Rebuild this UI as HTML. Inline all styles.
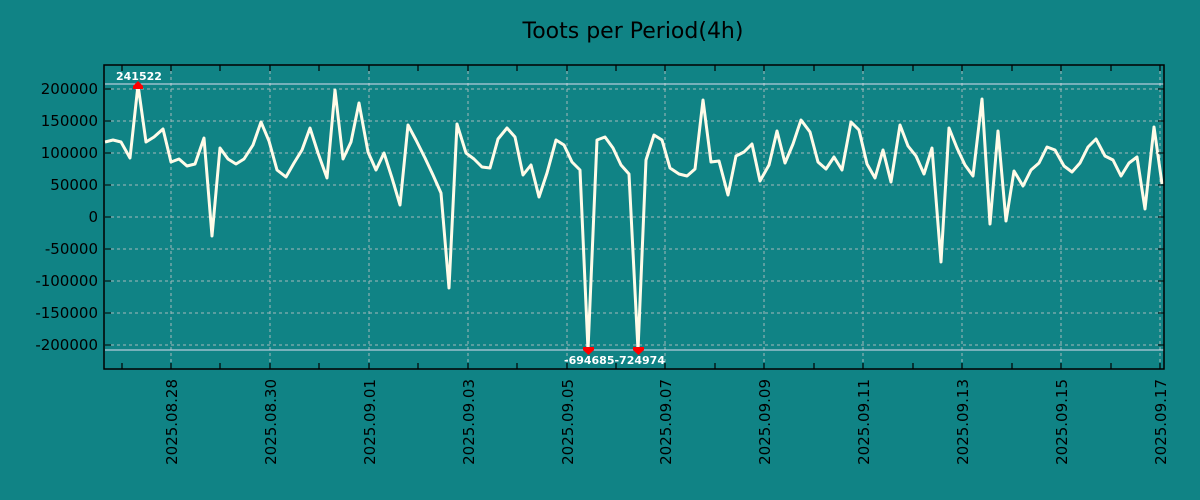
<!DOCTYPE html>
<html><head><meta charset="utf-8"><style>
body{margin:0;background:#108385;}
svg{display:block}
text{font-family:"DejaVu Sans","Liberation Sans",sans-serif}
</style></head><body>
<svg width="1200" height="500" viewBox="0 0 1200 500">
<rect width="1200" height="500" fill="#108385"/>
<text x="633" y="38" font-size="22" text-anchor="middle" fill="#000">Toots per Period(4h)</text>
<g stroke="#c8c8c8" stroke-width="1" stroke-dasharray="3,3" opacity="0.8">
<line x1="105" x2="1164" y1="89" y2="89"/><line x1="105" x2="1164" y1="121" y2="121"/>
<line x1="105" x2="1164" y1="153" y2="153"/><line x1="105" x2="1164" y1="185" y2="185"/>
<line x1="105" x2="1164" y1="217" y2="217"/><line x1="105" x2="1164" y1="249" y2="249"/>
<line x1="105" x2="1164" y1="281" y2="281"/><line x1="105" x2="1164" y1="313" y2="313"/>
<line x1="105" x2="1164" y1="345" y2="345"/>
<line y1="65" y2="369" x1="171" x2="171"/><line y1="65" y2="369" x1="270" x2="270"/>
<line y1="65" y2="369" x1="369" x2="369"/><line y1="65" y2="369" x1="468" x2="468"/>
<line y1="65" y2="369" x1="567" x2="567"/><line y1="65" y2="369" x1="665" x2="665"/>
<line y1="65" y2="369" x1="764" x2="764"/><line y1="65" y2="369" x1="863" x2="863"/>
<line y1="65" y2="369" x1="962" x2="962"/><line y1="65" y2="369" x1="1061" x2="1061"/>
<line y1="65" y2="369" x1="1160" x2="1160"/>
</g>
<line x1="105" x2="1164" y1="84" y2="84" stroke="#dde" stroke-width="1"/>
<line x1="105" x2="1164" y1="350" y2="350" stroke="#dde" stroke-width="1"/>
<polyline fill="none" stroke="#fffbe8" stroke-width="3" stroke-linejoin="round" points="105,142 113,140 121,142 130,158 138,85 146,142 154,137 163,129 171,162 179,159 187,166 195,164 204,138 212,236 220,148 228,159 236,164 244,159 253,145 261,122 269,141 277,170 286,177 294,163 302,150 310,128 318,153 327,178 335,90 343,159 351,142 359,103 368,152 376,170 384,153 392,178 400,205 408,125 416,140 425,158 433,175 441,193 449,288 457,124 466,153 474,159 482,167 490,168 498,139 507,128 515,137 523,175 531,165 539,197 547,173 556,140 564,145 572,162 580,170 588,350 597,140 605,137 613,148 621,165 629,174 638,350 646,160 654,135 662,140 670,168 679,174 687,176 695,169 703,100 711,162 719,161 728,195 736,156 744,152 752,144 760,181 769,165 777,131 785,163 793,144 801,120 810,132 818,162 826,169 834,157 842,170 851,122 859,130 867,164 875,178 883,150 891,182 900,125 908,146 916,156 924,174 932,148 941,262 949,128 957,148 965,165 973,176 982,99 990,224 998,131 1006,221 1014,171 1023,186 1031,170 1039,163 1047,147 1055,150 1064,166 1072,172 1080,163 1088,147 1096,139 1105,156 1113,160 1121,176 1129,163 1137,157 1145,209 1154,127 1162,184"/>
<rect x="104" y="65" width="1060" height="304" fill="none" stroke="#000" stroke-width="1.5"/>
<g stroke="#000" stroke-width="1">
<line x1="105" x2="111" y1="89" y2="89"/><line x1="105" x2="111" y1="121" y2="121"/><line x1="105" x2="111" y1="153" y2="153"/><line x1="105" x2="111" y1="185" y2="185"/><line x1="105" x2="111" y1="217" y2="217"/><line x1="105" x2="111" y1="249" y2="249"/><line x1="105" x2="111" y1="281" y2="281"/><line x1="105" x2="111" y1="313" y2="313"/><line x1="105" x2="111" y1="345" y2="345"/>
<line x1="1158" x2="1164" y1="89" y2="89"/><line x1="1158" x2="1164" y1="121" y2="121"/><line x1="1158" x2="1164" y1="153" y2="153"/><line x1="1158" x2="1164" y1="185" y2="185"/><line x1="1158" x2="1164" y1="217" y2="217"/><line x1="1158" x2="1164" y1="249" y2="249"/><line x1="1158" x2="1164" y1="281" y2="281"/><line x1="1158" x2="1164" y1="313" y2="313"/><line x1="1158" x2="1164" y1="345" y2="345"/>
</g>
<g stroke="#000" stroke-width="1.2">
<path d="M122,65v6M171,65v6M220,65v6M270,65v6M319,65v6M369,65v6M418,65v6M468,65v6M517,65v6M567,65v6M616,65v6M665,65v6M715,65v6M764,65v6M814,65v6M863,65v6M913,65v6M962,65v6M1012,65v6M1061,65v6M1111,65v6M1160,65v6"/>
<path d="M122,369v-6M171,369v-6M220,369v-6M270,369v-6M319,369v-6M369,369v-6M418,369v-6M468,369v-6M517,369v-6M567,369v-6M616,369v-6M665,369v-6M715,369v-6M764,369v-6M814,369v-6M863,369v-6M913,369v-6M962,369v-6M1012,369v-6M1061,369v-6M1111,369v-6M1160,369v-6"/>
</g>
<g fill="red">
<path d="M133,89 h10 v-3 l-5,-5 l-5,5z"/>
<path d="M583,347 h11 v3 l-5.5,5 l-5.5,-5z"/>
<path d="M633,347 h11 v3 l-5.5,5 l-5.5,-5z"/>
</g>
<g fill="#fff" font-size="11" font-weight="bold">
<text x="116" y="80">241522</text>
<text x="564" y="364">-694685-724974</text>
</g>
<g font-size="15" fill="#000" text-anchor="end">
<text x="98" y="94">200000</text><text x="98" y="126">150000</text><text x="98" y="158">100000</text><text x="98" y="190">50000</text><text x="98" y="222">0</text><text x="98" y="254">-50000</text><text x="98" y="286">-100000</text><text x="98" y="318">-150000</text><text x="98" y="350">-200000</text>
</g>
<g font-size="15" fill="#000" text-anchor="end">
<text transform="translate(177,379) rotate(-90)">2025.08.28</text>
<text transform="translate(276,379) rotate(-90)">2025.08.30</text>
<text transform="translate(375,379) rotate(-90)">2025.09.01</text>
<text transform="translate(474,379) rotate(-90)">2025.09.03</text>
<text transform="translate(573,379) rotate(-90)">2025.09.05</text>
<text transform="translate(671,379) rotate(-90)">2025.09.07</text>
<text transform="translate(770,379) rotate(-90)">2025.09.09</text>
<text transform="translate(869,379) rotate(-90)">2025.09.11</text>
<text transform="translate(968,379) rotate(-90)">2025.09.13</text>
<text transform="translate(1067,379) rotate(-90)">2025.09.15</text>
<text transform="translate(1166,379) rotate(-90)">2025.09.17</text>
</g>
</svg>
</body></html>
